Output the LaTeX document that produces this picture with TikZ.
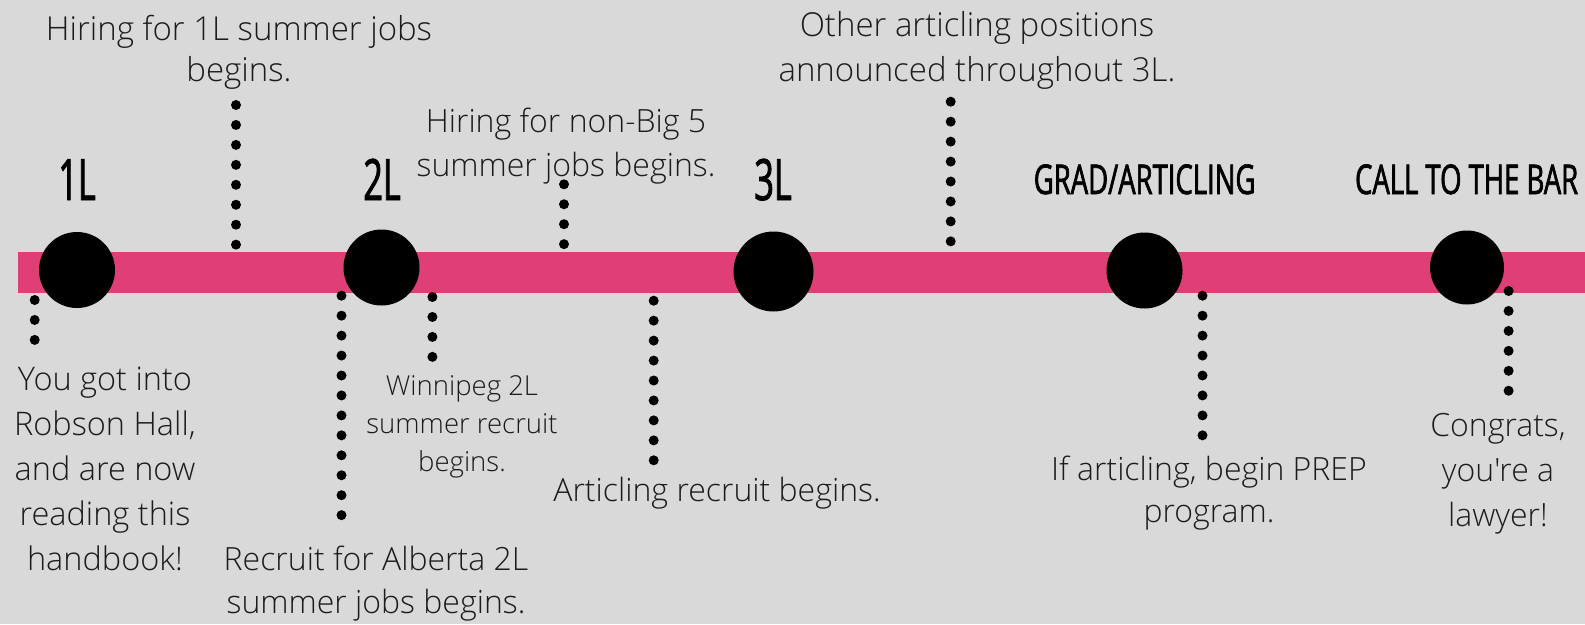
\documentclass[tikz,border=0pt]{standalone}
\usepackage{fontspec}
\newfontfamily\bodyfont{Open Sans Light}
\newfontfamily\yearfont{Open Sans}[FakeStretch=0.6, FakeBold=1.6]
\newfontfamily\phasefont{Open Sans}[FakeStretch=0.67, FakeBold=1.6]
\definecolor{paper}{HTML}{D9D9D9}
\definecolor{barpink}{HTML}{E03E76}
\definecolor{ink}{HTML}{1C1C1C}
\tikzset{
  stop/.style={circle, fill=black, inner sep=0pt, minimum size=#1},
  stop/.default=76pt,
  dotline/.style={line width=10pt, line cap=round, dash pattern=on 0pt off 19.95pt},
  year/.style={anchor=base, inner sep=0pt, text=black, font=\yearfont\fontsize{57}{60}\selectfont},
  phase/.style={anchor=base, inner sep=0pt, text=black, font=\phasefont\fontsize{41}{44}\selectfont},
  note/.style={anchor=base, inner sep=0pt, align=center, text=ink}
}
\begin{document}
\begin{tikzpicture}[x=1pt,y=-1pt]
\useasboundingbox (0,0) rectangle (1585,624);
\fill[paper] (0,0) rectangle (1585,624);

% timeline bar
\fill[barpink] (18,252) rectangle (1585,293);

% milestones
\node[stop] (s1) at (77,270) {};
\node[stop] (s2) at (381.5,267.5) {};
\node[stop=80pt] (s3) at (773.5,271.5) {};
\node[stop] (s4) at (1144.5,270.5) {};
\node[stop=74pt] (s5) at (1467,267.5) {};

% milestone titles
\node[year] (y1) at (77,200) {1L};
\node[year] (y2) at (382,200) {2L};
\node[year] (y3) at (773,200) {3L};
\node[phase] (y4) at (1144.6,194) {GRAD/ARTICLING};
\node[phase] (y5) at (1466.6,194) {CALL TO THE BAR};

% event notes above the bar (positioned by the baseline of their last line)
\node[note, font=\bodyfont\fontsize{33}{41}\selectfont] (t1) at (239,81.7) {Hiring for 1L summer jobs\\begins.};
\node[note, font=\bodyfont\fontsize{32}{44}\selectfont] (t2) at (566,176) {Hiring for non-Big 5\\summer jobs begins.};
\node[note, font=\bodyfont\fontsize{33}{45}\selectfont] (t3) at (977,81) {Other articling positions\\announced throughout 3L.};

% event notes below the bar
\node[note, font=\bodyfont\fontsize{32.5}{45}\selectfont] (t4) at (105,570) {You got into\\Robson Hall,\\and are now\\reading this\\handbook!};
\node[note, font=\bodyfont\fontsize{27.5}{38.3}\selectfont] (t5) at (462,471.7) {Winnipeg 2L\\summer recruit\\begins.};
\node[note, font=\bodyfont\fontsize{32}{43.3}\selectfont] (t6) at (376,613.3) {Recruit for Alberta 2L\\summer jobs begins.};
\node[note, font=\bodyfont\fontsize{32}{40}\selectfont] (t7) at (717,501.7) {Articling recruit begins.};
\node[note, font=\bodyfont\fontsize{32}{42}\selectfont] (t8) at (1209,522) {If articling, begin PREP\\program.};
\node[note, font=\bodyfont\fontsize{32}{45}\selectfont] (t9) at (1498,526.7) {Congrats,\\you're a\\lawyer!};

% dotted leaders
\coordinate (a1) at (236,105);   \coordinate (b1) at (236,245);
\coordinate (a2) at (564,184.3); \coordinate (b2) at (564,244.3);
\coordinate (a3) at (950.7,101.7); \coordinate (b3) at (950.7,241.7);
\coordinate (a4) at (34.7,300);  \coordinate (b4) at (34.7,340);
\coordinate (a5) at (341.5,295.7); \coordinate (b5) at (341.5,515.7);
\coordinate (a6) at (432.4,297); \coordinate (b6) at (432.4,357);
\coordinate (a7) at (653.7,300.7); \coordinate (b7) at (653.7,460.7);
\coordinate (a8) at (1202.5,295.7); \coordinate (b8) at (1202.5,435.7);
\coordinate (a9) at (1508.6,291); \coordinate (b9) at (1508.6,391);
\foreach \i in {1,...,9} {\draw[dotline] (a\i) -- (b\i);}
\end{tikzpicture}
\end{document}
